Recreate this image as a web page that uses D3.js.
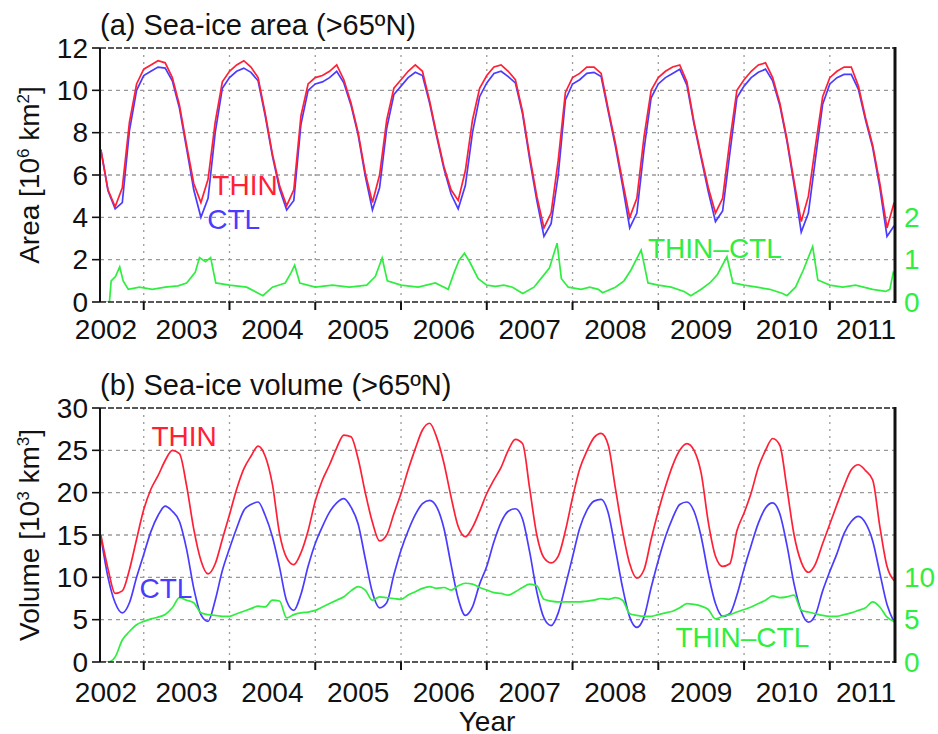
<!DOCTYPE html>
<html>
<head>
<meta charset="utf-8">
<script src="https://cdn.jsdelivr.net/npm/d3@7"></script>
<style>
  body { margin: 0; background: #fff; }
  text { font-family: "Liberation Sans", Arial, sans-serif; }
</style>
</head>
<body>
<svg id="chart"></svg>
<script>
// monthly samples, Jul 2002 .. Oct 2011
const startYear = 2002.5;

// (a) sea-ice area, 10^6 km2
const areaThin = [
  7.2, 5.3, 4.5, 5.4, 8.5, 10.3,
  11.0, 11.2, 11.4, 11.3, 10.6, 9.3, 7.4, 5.6, 4.7, 5.8, 8.5, 10.4,
  10.9, 11.2, 11.4, 11.1, 10.6, 8.9, 7.0, 5.5, 4.55, 5.3, 8.8, 10.3,
  10.6, 10.7, 10.9, 11.2, 10.5, 9.4, 8.0, 6.1, 4.7, 6.0, 8.6, 10.1,
  10.5, 10.9, 11.2, 10.9, 9.5, 7.9, 6.4, 5.3, 4.8, 6.2, 8.6, 10.1,
  10.7, 11.1, 11.2, 10.9, 10.5, 9.0, 6.9, 5.0, 3.5, 4.2, 6.7, 9.9,
  10.6, 10.8, 11.1, 11.1, 10.8, 9.1, 7.5, 5.7, 4.0, 4.9, 7.8, 10.0,
  10.6, 10.9, 11.1, 11.2, 10.4, 8.5, 6.9, 5.4, 4.2, 4.9, 7.6, 10.0,
  10.5, 10.9, 11.2, 11.3, 10.6, 9.4, 7.7, 5.7, 3.8, 5.0, 7.4, 9.7,
  10.6, 10.9, 11.1, 11.1, 10.2, 8.7, 7.4, 5.6, 3.5, 4.7
];
const areaCtl = [
  7.2, 5.25, 4.4, 4.7, 8.1, 10.0,
  10.7, 10.9, 11.1, 11.05, 10.45, 9.15, 7.25, 5.3, 4.0, 4.9, 8.0, 10.1,
  10.6, 10.9, 11.05, 10.85, 10.45, 8.8, 6.9, 5.35, 4.35, 4.8, 8.4, 10.0,
  10.3, 10.4, 10.6, 10.9, 10.35, 9.3, 7.9, 5.95, 4.35, 5.4, 8.2, 9.8,
  10.2, 10.6, 10.85, 10.7, 9.4, 7.8, 6.3, 5.1, 4.4, 5.5, 8.0, 9.7,
  10.35, 10.8, 10.9, 10.65, 10.35, 8.9, 6.75, 4.8, 3.1, 3.7, 6.0, 9.55,
  10.3, 10.5, 10.8, 10.85, 10.65, 9.0, 7.35, 5.5, 3.5, 4.2, 7.2, 9.65,
  10.3, 10.6, 10.8, 11.0, 10.25, 8.4, 6.8, 5.2, 3.8, 4.3, 7.0, 9.65,
  10.2, 10.6, 10.85, 11.0, 10.45, 9.3, 7.6, 5.55, 3.3, 4.2, 6.8, 9.35,
  10.3, 10.6, 10.75, 10.75, 10.05, 8.6, 7.3, 5.4, 3.1, 3.6
];
// THIN-CTL area (right axis), [year, value] picked along the trace
const areaDiff = [
  [2002.49, 0], [2002.60, 0], [2002.62, 0.5], [2002.67, 0.6], [2002.72, 0.83], [2002.76, 0.5],
  [2002.82, 0.3], [2002.95, 0.35], [2003.1, 0.3], [2003.25, 0.35], [2003.4, 0.38], [2003.5, 0.45],
  [2003.6, 0.7], [2003.65, 1.05], [2003.72, 0.95], [2003.78, 1.05], [2003.84, 0.45], [2004.0, 0.4],
  [2004.2, 0.35], [2004.39, 0.15], [2004.5, 0.35], [2004.65, 0.45], [2004.72, 0.7], [2004.76, 0.87],
  [2004.82, 0.45], [2005.0, 0.35], [2005.2, 0.4], [2005.4, 0.35], [2005.6, 0.4], [2005.7, 0.6],
  [2005.78, 1.04], [2005.84, 0.5], [2006.0, 0.4], [2006.2, 0.35], [2006.4, 0.45], [2006.55, 0.3],
  [2006.62, 0.7], [2006.68, 1.0], [2006.74, 1.15], [2006.8, 0.95], [2006.9, 0.55], [2007.0, 0.4],
  [2007.1, 0.37], [2007.2, 0.4], [2007.3, 0.35], [2007.42, 0.2], [2007.55, 0.35], [2007.65, 0.6],
  [2007.73, 0.8], [2007.82, 1.39], [2007.87, 0.55], [2007.95, 0.35], [2008.1, 0.3], [2008.2, 0.35],
  [2008.3, 0.3], [2008.35, 0.22], [2008.5, 0.35], [2008.6, 0.5], [2008.68, 0.75], [2008.8, 1.23],
  [2008.88, 0.45], [2009.0, 0.4], [2009.15, 0.35], [2009.3, 0.25], [2009.38, 0.15], [2009.5, 0.3],
  [2009.6, 0.45], [2009.69, 0.65], [2009.8, 1.07], [2009.87, 0.45], [2010.0, 0.4], [2010.15, 0.35],
  [2010.3, 0.3], [2010.45, 0.2], [2010.5, 0.15], [2010.6, 0.35], [2010.69, 0.75], [2010.8, 1.31],
  [2010.86, 0.52], [2011.0, 0.4], [2011.15, 0.35], [2011.3, 0.4], [2011.5, 0.3], [2011.65, 0.25],
  [2011.7, 0.3], [2011.74, 0.7], [2011.76, 0.65]
];

// (b) sea-ice volume, 10^3 km3
const volThin = [
  15.0, 11.0, 8.1, 8.4, 10.9, 14.5,
  18.0, 20.4, 22.0, 23.8, 25.0, 24.6, 20.8, 15.7, 12.0, 10.4, 11.6, 14.5,
  17.4, 20.4, 22.8, 24.3, 25.5, 24.3, 21.0, 15.2, 12.3, 11.5, 12.9, 15.5,
  19.0, 21.5, 23.3, 25.3, 26.8, 26.6, 24.0, 20.0, 16.5, 14.3, 15.0, 17.5,
  19.9, 22.7, 25.2, 27.4, 28.2, 26.5, 23.5, 19.5, 16.0, 14.8, 15.9, 17.8,
  19.9, 21.5, 23.0, 25.0, 26.3, 25.8, 20.5, 15.0, 12.3, 11.7, 12.5, 15.5,
  19.4, 22.8, 24.9, 26.5, 27.0, 25.6, 20.5, 15.5, 11.6, 9.9, 10.9, 14.5,
  17.8, 20.7, 23.2, 25.0, 25.8, 25.0, 22.3, 16.5, 12.5, 11.3, 11.6, 15.5,
  17.6, 20.0, 23.0, 25.0, 26.4, 25.6, 20.5, 15.0, 11.8, 10.6, 11.6, 14.0,
  16.3, 18.6, 20.8, 22.7, 23.3, 22.6, 21.5, 16.0, 11.3, 9.6
];
const volCtl = [
  14.8, 10.0, 7.0, 5.8, 7.0, 10.0,
  12.7, 15.4, 17.3, 18.4, 17.8, 16.6, 13.3, 8.7, 5.6, 4.8, 7.3, 10.8,
  13.4, 15.8, 17.9, 18.6, 18.9, 17.3, 14.8, 11.2, 7.2, 6.1, 8.0, 11.3,
  14.0, 16.0, 17.7, 18.8, 19.3, 18.3, 16.3, 12.2, 8.2, 6.4, 7.0, 10.3,
  13.2, 15.5, 17.4, 18.7, 19.1, 18.3, 15.8, 11.5, 7.5, 5.5, 6.5, 9.2,
  11.3, 14.2, 16.5, 17.8, 18.1, 16.9, 13.0, 8.3, 5.2, 4.3, 5.8, 9.0,
  12.4, 15.8, 17.9, 19.0, 19.2, 17.6, 13.3, 8.8, 5.3, 4.1, 5.3, 8.8,
  12.0, 14.8, 17.0, 18.6, 18.9, 17.8, 14.8, 10.4, 6.9, 5.4, 5.7, 7.9,
  11.0, 13.8, 16.4, 18.2, 18.8, 17.5, 13.8, 9.2, 6.0, 4.7, 5.6, 8.4,
  10.7, 12.8, 15.2, 16.6, 17.2, 16.4, 14.3, 10.5, 6.8, 4.7
];
const volDiff = [
  0, 0, 0.6, 2.6, 3.6, 4.4,
  4.8, 5.1, 5.3, 5.6, 6.4, 7.6, 7.3, 7.0, 5.8, 5.6, 5.5, 5.4,
  5.4, 5.7, 6.0, 6.3, 6.6, 6.5, 7.3, 7.2, 5.2, 5.6, 5.8, 5.9,
  6.1, 6.5, 6.9, 7.3, 7.7, 8.4, 8.9, 8.5, 7.3, 7.7, 7.6, 7.5,
  7.4, 7.9, 8.3, 8.7, 8.9, 8.7, 8.8, 8.5, 9.0, 9.3, 9.2, 8.8,
  8.5, 8.2, 8.1, 7.9, 8.3, 8.8, 9.2, 9.0, 7.4, 7.2, 7.1, 7.1,
  7.1, 7.1, 7.2, 7.3, 7.5, 7.4, 7.6, 7.3, 5.7, 5.5, 5.4, 5.4,
  5.6, 5.8, 6.0, 6.4, 6.9, 6.8, 6.6, 6.2, 5.1, 5.4, 5.6, 5.9,
  6.2, 6.5, 6.9, 7.3, 7.8, 7.6, 7.7, 7.9, 6.1, 5.9, 5.7, 5.5,
  5.4, 5.4, 5.6, 5.8, 6.1, 6.4, 7.1, 6.5, 5.3, 4.8
];

const yearTicks = [2003, 2004, 2005, 2006, 2007, 2008, 2009, 2010, 2011];
const yearLabels = [2002, 2003, 2004, 2005, 2006, 2007, 2008, 2009, 2010, 2011];

const colors = { thin: "#ff2036", ctl: "#4a3cff", diff: "#2fee3f" };
const W = 938, H = 734;
const months = areaThin.map((d, i) => startYear + i / 12);

const svg = d3.select("#chart").attr("width", W).attr("height", H);
svg.append("rect").attr("width", W).attr("height", H).attr("fill", "#fff");

const x = d3.scaleLinear().domain([2002.49, 2011.76]).range([100, 895]);

function drawPanel(cfg) {
  const g = svg.append("g");
  const y = d3.scaleLinear().domain([0, cfg.ymax]).range([cfg.bottom, cfg.top]);
  const y2 = d3.scaleLinear().domain([0, cfg.y2max]).range([cfg.bottom, cfg.top]);
  const [x0, x1] = x.range();

  // grid
  g.selectAll(".hgrid").data(cfg.yticks.filter(v => v > 0 && v < cfg.ymax)).join("line")
    .attr("x1", x0).attr("x2", x1).attr("y1", d => y(d)).attr("y2", d => y(d))
    .attr("stroke", "#9a9a9a").attr("stroke-width", 1.3).attr("stroke-dasharray", "4,4");
  g.selectAll(".vgrid").data(yearTicks).join("line")
    .attr("x1", d => x(d)).attr("x2", d => x(d)).attr("y1", cfg.top).attr("y2", cfg.bottom)
    .attr("stroke", "#9a9a9a").attr("stroke-width", 1.3).attr("stroke-dasharray", "2,5");

  // series
  const clipId = "clip" + cfg.id;
  svg.append("clipPath").attr("id", clipId).append("rect")
    .attr("x", x0).attr("y", cfg.top).attr("width", x1 - x0).attr("height", cfg.bottom - cfg.top);
  const lines = g.append("g").attr("clip-path", `url(#${clipId})`);
  const monthly = sc => d3.line().x((d, i) => x(months[i])).y(d => sc(d)).curve(cfg.curve);
  lines.append("path").datum(cfg.ctl).attr("d", monthly(y))
    .attr("fill", "none").attr("stroke", colors.ctl).attr("stroke-width", 1.7);
  lines.append("path").datum(cfg.thin).attr("d", monthly(y))
    .attr("fill", "none").attr("stroke", colors.thin).attr("stroke-width", 1.7);
  const diffLine = cfg.diffPairs
    ? d3.line().x(d => x(d[0])).y(d => y2(d[1]))
    : monthly(y2);
  lines.append("path").datum(cfg.diff).attr("d", diffLine)
    .attr("fill", "none").attr("stroke", colors.diff).attr("stroke-width", 1.7);

  // frame
  [cfg.top, cfg.bottom].forEach(v => {
    g.append("line").attr("x1", x0).attr("x2", x1).attr("y1", v).attr("y2", v)
      .attr("stroke", "#222").attr("stroke-width", 1.6).attr("stroke-dasharray", "6,2");
  });
  g.append("line").attr("x1", x0).attr("x2", x0).attr("y1", cfg.top).attr("y2", cfg.bottom)
    .attr("stroke", "#111").attr("stroke-width", 2);
  g.append("line").attr("x1", x1).attr("x2", x1).attr("y1", cfg.top - 1).attr("y2", cfg.bottom + 1)
    .attr("stroke", "#111").attr("stroke-width", 3);

  // ticks
  g.selectAll(".xt").data(yearTicks).join("line")
    .attr("x1", d => x(d)).attr("x2", d => x(d)).attr("y1", cfg.bottom).attr("y2", cfg.bottom + 8)
    .attr("stroke", "#111").attr("stroke-width", 2);
  g.selectAll(".yt").data(cfg.yticks).join("line")
    .attr("x1", x0 - 8).attr("x2", x0).attr("y1", d => y(d)).attr("y2", d => y(d))
    .attr("stroke", "#111").attr("stroke-width", 1.6);

  // tick labels
  g.selectAll(".yl").data(cfg.yticks).join("text")
    .attr("x", x0 - 12).attr("y", d => y(d)).attr("dy", "0.35em")
    .attr("text-anchor", "end").attr("font-size", 28).attr("fill", "#111").text(d => d);
  g.selectAll(".y2l").data(cfg.y2ticks).join("text")
    .attr("x", x1 + 9).attr("y", d => y2(d)).attr("dy", "0.35em")
    .attr("font-size", 28).attr("fill", colors.diff).text(d => d);
  // year labels sit mid-year; end labels are pulled in to fit the frame
  g.selectAll(".xl").data(yearLabels).join("text")
    .attr("x", d => Math.min(Math.max(x(d + 0.5), 106), 866))
    .attr("y", cfg.bottom + cfg.xlabOffset)
    .attr("text-anchor", "middle").attr("font-size", 28).attr("fill", "#111").text(d => d);

  // title
  g.append("text").attr("x", x0).attr("y", cfg.top - 13).attr("font-size", 29)
    .attr("fill", "#111").text(cfg.title);

  // y label
  const yl = g.append("text")
    .attr("transform", `translate(39,${(cfg.top + cfg.bottom) / 2}) rotate(-90)`)
    .attr("text-anchor", "middle").attr("font-size", 28).attr("fill", "#111");
  yl.append("tspan").text(cfg.ylabel[0]);
  yl.append("tspan").attr("font-size", 17).attr("dy", -10).text(cfg.ylabel[1]);
  yl.append("tspan").attr("dy", 10).text(cfg.ylabel[2]);
  yl.append("tspan").attr("font-size", 17).attr("dy", -10).text(cfg.ylabel[3]);
  yl.append("tspan").attr("dy", 10).text("]");

  // series labels
  cfg.labels.forEach(l => {
    g.append("text").attr("x", x(l.t)).attr("y", y(l.v)).attr("font-size", 28)
      .attr("fill", colors[l.key]).text(l.text);
  });
}

drawPanel({
  id: "a", top: 48, bottom: 302, ymax: 12, y2max: 6,
  yticks: [0, 2, 4, 6, 8, 10, 12], y2ticks: [0, 1, 2],
  thin: areaThin, ctl: areaCtl, diff: areaDiff, diffPairs: true,
  curve: d3.curveLinear,
  title: "(a) Sea-ice area (>65ºN)",
  ylabel: ["Area [10", "6", " km", "2"],
  xlabOffset: 37,
  labels: [
    { key: "thin", text: "THIN", t: 2003.8, v: 5.05 },
    { key: "ctl", text: "CTL", t: 2003.74, v: 3.45 },
    { key: "diff", text: "THIN\u2013CTL", t: 2008.88, v: 2.1 }
  ]
});

drawPanel({
  id: "b", top: 408, bottom: 662, ymax: 30, y2max: 30,
  yticks: [0, 5, 10, 15, 20, 25, 30], y2ticks: [0, 5, 10],
  thin: volThin, ctl: volCtl, diff: volDiff, diffPairs: false,
  curve: d3.curveMonotoneX,
  title: "(b) Sea-ice volume (>65ºN)",
  ylabel: ["Volume [10", "3", " km", "3"],
  xlabOffset: 40,
  labels: [
    { key: "thin", text: "THIN", t: 2003.09, v: 25.5 },
    { key: "ctl", text: "CTL", t: 2002.95, v: 7.6 },
    { key: "diff", text: "THIN\u2013CTL", t: 2009.2, v: 1.8 }
  ]
});

svg.append("text").attr("x", 487).attr("y", 731).attr("text-anchor", "middle")
  .attr("font-size", 28).attr("fill", "#111").text("Year");
</script>
</body>
</html>
